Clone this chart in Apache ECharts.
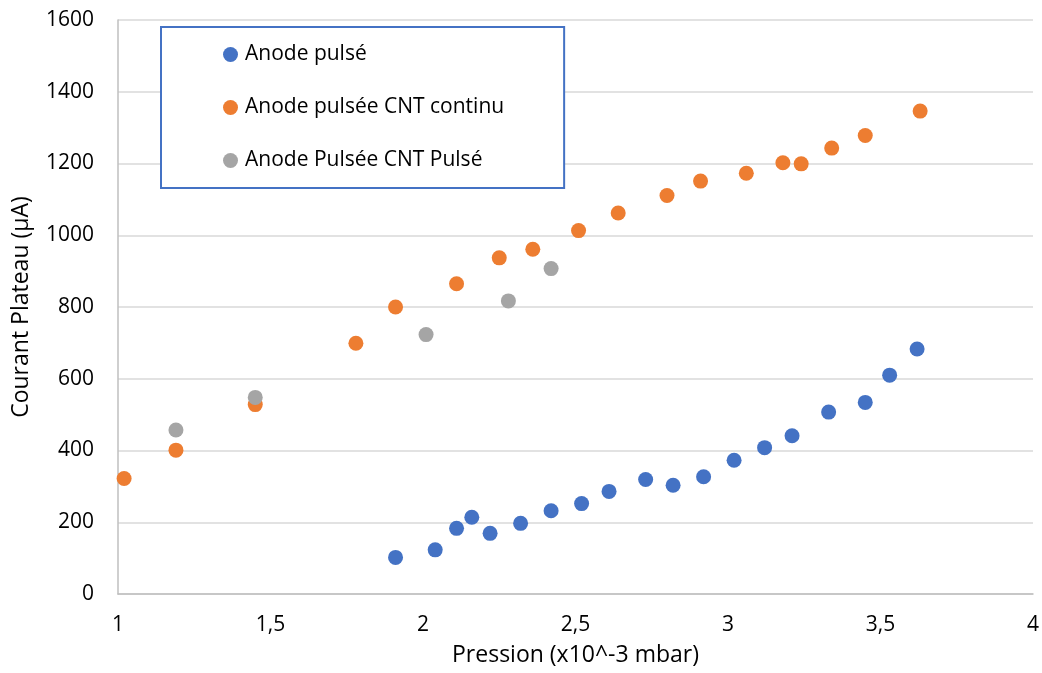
<!DOCTYPE html>
<html>
<head>
<meta charset="utf-8">
<script src="https://cdn.jsdelivr.net/npm/echarts@6/dist/echarts.min.js"></script>
<style>
html,body{margin:0;padding:0;background:#fff;}
#chart{width:1042px;height:673px;}
</style>
</head>
<body>
<div id="chart"></div>
<script>
const seriesNames = ['Anode pulsé', 'Anode pulsée CNT continu', 'Anode Pulsée CNT Pulsé'];
const anodePulseX = [1.91, 2.04, 2.11, 2.16, 2.22, 2.32, 2.42, 2.52, 2.61, 2.73, 2.82, 2.92, 3.02, 3.12, 3.21, 3.33, 3.45, 3.53, 3.62];
const anodePulseY = [102, 123, 183, 214, 169, 197, 232, 252, 286, 319, 303, 327, 373, 408, 441, 507, 534, 610, 683];
const cntContinuX = [1.02, 1.19, 1.45, 1.78, 1.91, 2.11, 2.25, 2.36, 2.51, 2.64, 2.80, 2.91, 3.06, 3.18, 3.24, 3.34, 3.45, 3.63];
const cntContinuY = [322, 401, 528, 699, 800, 865, 937, 961, 1013, 1062, 1111, 1151, 1173, 1202, 1199, 1243, 1278, 1346];
const cntPulseX = [1.19, 1.45, 2.01, 2.28, 2.42];
const cntPulseY = [457, 548, 723, 817, 907];
const xTicks = {min: 1, max: 4, step: 0.5};
const yTicks = {min: 0, max: 1600, step: 200};
const colors = ['#4472C4', '#ED7D31', '#A5A5A5'];

function pairs(xs, ys) { return xs.map((x, i) => [x, ys[i]]); }

const FONT = 'Open Sans';
const chart = echarts.init(document.getElementById('chart'), null, {renderer: 'canvas'});
chart.setOption({
  animation: false,
  backgroundColor: '#ffffff',
  textStyle: {fontFamily: FONT},
  grid: {left: 118, right: 9, top: 20, bottom: 79, containLabel: false},
  legend: {
    orient: 'vertical',
    left: 161, top: 27,
    icon: 'circle',
    itemWidth: 15, itemHeight: 15,
    itemGap: 30,
    padding: [16, 60, 16, 62],
    backgroundColor: '#ffffff',
    borderColor: '#4472C4', borderWidth: 2, borderRadius: 0,
    textStyle: {fontFamily: FONT, fontSize: 21, color: '#000', lineHeight: 23, padding: [0, 0, 0, 2]},
    data: seriesNames
  },
  xAxis: {
    type: 'value', min: xTicks.min, max: xTicks.max, interval: xTicks.step,
    name: 'Pression (x10^-3 mbar)', nameLocation: 'middle', nameGap: 50,
    nameTextStyle: {fontFamily: FONT, fontSize: 23, color: '#000'},
    axisLine: {show: true, lineStyle: {color: '#BFBFBF', width: 1.5}},
    axisTick: {show: false},
    splitLine: {show: false},
    axisLabel: {fontFamily: FONT, fontSize: 21, color: '#000', margin: 21,
      formatter: v => String(v).replace('.', ',')}
  },
  yAxis: {
    type: 'value', min: yTicks.min, max: yTicks.max, interval: yTicks.step,
    name: 'Courant Plateau (µA)', nameLocation: 'middle', nameGap: 85,
    nameTextStyle: {fontFamily: FONT, fontSize: 23, color: '#000'},
    axisLine: {show: true, lineStyle: {color: '#BFBFBF', width: 1.5}},
    axisTick: {show: false},
    splitLine: {show: true, lineStyle: {color: '#D9D9D9', width: 1.5}},
    axisLabel: {fontFamily: FONT, fontSize: 21, color: '#000', margin: 24,
      formatter: v => String(v)}
  },
  series: [
    {name: seriesNames[0], type: 'scatter', symbolSize: 15, itemStyle: {color: colors[0], opacity: 1}, data: pairs(anodePulseX, anodePulseY)},
    {name: seriesNames[1], type: 'scatter', symbolSize: 15, itemStyle: {color: colors[1], opacity: 1}, data: pairs(cntContinuX, cntContinuY)},
    {name: seriesNames[2], type: 'scatter', symbolSize: 15, itemStyle: {color: colors[2], opacity: 1}, data: pairs(cntPulseX, cntPulseY)}
  ]
});
</script>
</body>
</html>
